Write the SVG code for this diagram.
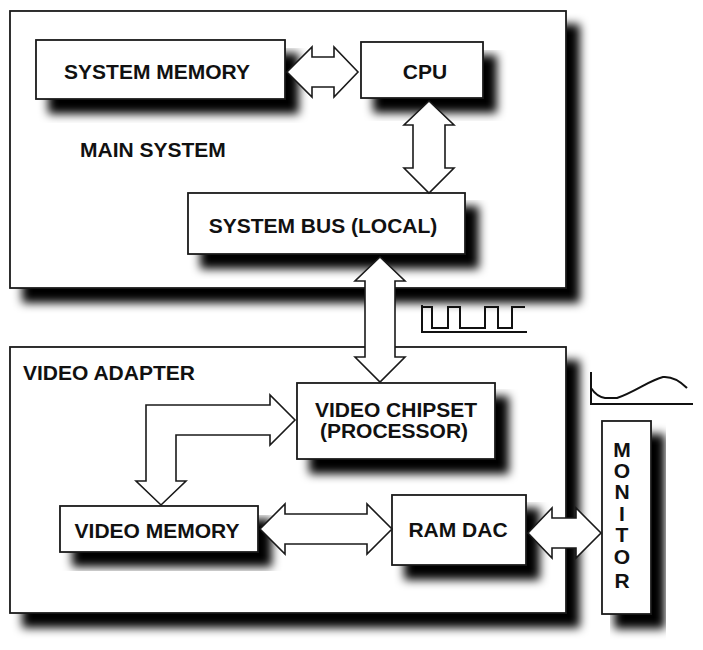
<svg xmlns="http://www.w3.org/2000/svg" width="703" height="650" viewBox="0 0 703 650">
<defs>
<filter id="sh" x="-10%" y="-10%" width="140%" height="150%">
<feGaussianBlur in="SourceAlpha" stdDeviation="5"/>
<feOffset dx="13" dy="14"/>
<feComponentTransfer><feFuncA type="linear" slope="1"/></feComponentTransfer>
<feMerge><feMergeNode/><feMergeNode in="SourceGraphic"/></feMerge>
</filter>
</defs>
<style>
.box{fill:#fff;stroke:#1a1a1a;stroke-width:1.8;filter:url(#sh)}
.t{font-family:"Liberation Sans",Arial,sans-serif;font-weight:bold;font-size:21px;fill:#111}
.m{text-anchor:middle}
.arr{fill:#fff;stroke:#1a1a1a;stroke-width:1.6;stroke-linejoin:miter}
.sig{fill:none;stroke:#111;stroke-width:2}
</style>
<rect width="703" height="650" fill="#fff"/>
<g id="main-system">
<rect class="box" x="10" y="11" width="556" height="277"/>
<text class="t" x="80" y="157">MAIN SYSTEM</text>
</g>
<g id="video-adapter">
<rect class="box" x="10" y="347" width="556" height="266"/>
<text class="t" x="23" y="380">VIDEO ADAPTER</text>
</g>
<g id="system-memory">
<rect class="box" x="36" y="40" width="249" height="59"/>
<text class="t m" x="157" y="79">SYSTEM MEMORY</text>
</g>
<g id="cpu">
<rect class="box" x="361" y="42" width="122" height="56"/>
<text class="t m" x="425" y="79">CPU</text>
</g>
<g id="system-bus">
<rect class="box" x="188" y="193" width="277" height="61"/>
<text class="t m" x="323" y="233">SYSTEM BUS (LOCAL)</text>
</g>
<g id="video-chipset">
<rect class="box" x="297" y="383" width="198" height="76"/>
<text class="t m" x="396" y="417">VIDEO CHIPSET</text>
<text class="t m" x="394" y="438">(PROCESSOR)</text>
</g>
<g id="video-memory">
<rect class="box" x="60" y="506" width="198" height="46"/>
<text class="t m" x="157" y="538">VIDEO MEMORY</text>
</g>
<g id="ram-dac">
<rect class="box" x="392" y="495" width="134" height="70"/>
<text class="t m" x="458" y="537">RAM DAC</text>
</g>
<g id="monitor">
<rect class="box" x="602" y="421" width="49" height="193"/>
<g class="t m">
<text x="622" y="457">M</text>
<text x="622" y="478">O</text>
<text x="622" y="499">N</text>
<text x="622" y="521">I</text>
<text x="622" y="542">T</text>
<text x="622" y="564">O</text>
<text x="622" y="588">R</text>
</g>
</g>
<g id="connectors">
<path class="arr" d="M287,72 L312,47 L312,57 L334,57 L334,47 L358,72 L334,97 L334,87 L312,87 L312,97 Z"/>
<path class="arr" d="M429,101 L454,125 L445,125 L445,168 L454,168 L429,193 L404,168 L413,168 L413,125 L404,125 Z"/>
<path class="arr" d="M380,257 L405,281 L395,281 L395,357 L405,357 L380,382 L355,357 L365,357 L365,281 L355,281 Z"/>
<path class="arr" d="M146,405 H270 V395 L295,420 L270,445 V435 H176 V481 H186 L161,505 L136,481 H146 Z"/>
<path class="arr" d="M260,529 L285,504 L285,514 L367,514 L367,504 L392,529 L367,554 L367,544 L285,544 L285,554 Z"/>
<path class="arr" d="M528,533 L552,508 L552,518 L576,518 L576,508 L601,533 L576,558 L576,548 L552,548 L552,558 Z"/>
</g>
<g id="signals">
<path class="sig" d="M422,305 V332 H527"/>
<path class="sig" d="M422,307 H432 V328 H448 V307 H460 V328 H485 V307 H498 V328 H512 V307 H525"/>
<path class="sig" d="M591,372 V404 H693"/>
<path class="sig" d="M591,388 Q597,397 605,398 L617,398 C635,392 650,380 663,377 Q675,376 687,388"/>
</g>
</svg>
